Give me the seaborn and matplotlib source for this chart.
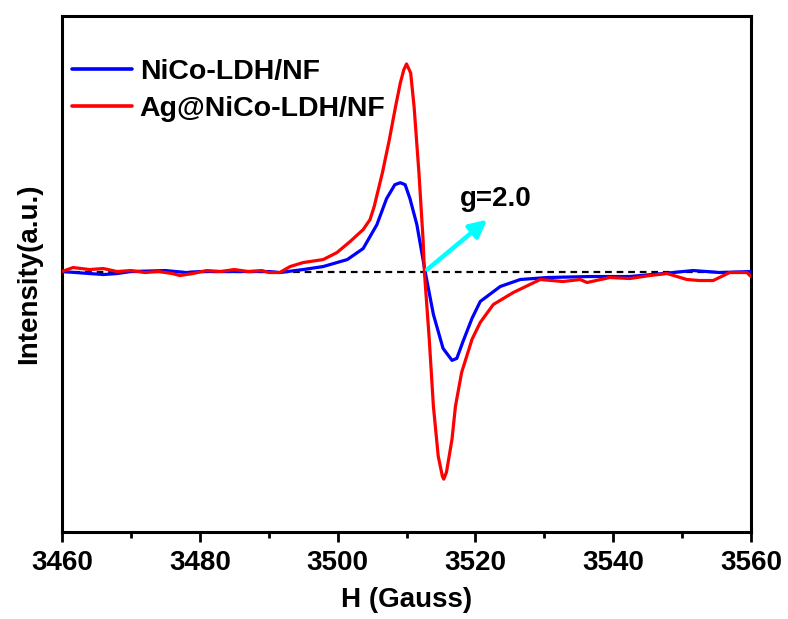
import numpy as np
import pandas as pd
import matplotlib
matplotlib.use("Agg")
import matplotlib.pyplot as plt
import seaborn as sns
from matplotlib.ticker import MultipleLocator

# EPR data (field in Gauss, intensity in a.u.)
h_nico = [3460.0, 3462.0, 3464.0, 3466.0, 3468.0, 3470.0, 3475.0, 3478.0, 3480.0,
          3485.0, 3490.0, 3491.6, 3495.0, 3497.9, 3501.4, 3503.7, 3505.7, 3507.1,
          3508.3, 3509.1, 3509.8, 3510.5, 3511.5, 3512.7, 3513.9, 3515.3, 3516.6,
          3517.3, 3518.2, 3519.5, 3520.7, 3523.6, 3526.5, 3530.4, 3536.6, 3542.4,
          3547.2, 3551.6, 3555.5, 3560.0]
i_nico = [0.00, -0.01, -0.02, -0.03, -0.02, 0.00, 0.01, -0.01, 0.00,
          0.00, 0.00, -0.01, 0.02, 0.05, 0.12, 0.23, 0.47, 0.73,
          0.87, 0.89, 0.87, 0.73, 0.47, 0.00, -0.43, -0.77, -0.89,
          -0.87, -0.70, -0.47, -0.30, -0.15, -0.08, -0.06, -0.05, -0.05,
          -0.02, 0.01, -0.01, 0.00]

h_ag = [3460.0, 3461.6, 3464.0, 3466.0, 3468.0, 3470.0, 3472.0, 3474.0, 3476.0,
        3477.1, 3479.0, 3481.0, 3483.0, 3485.0, 3487.0, 3489.0, 3490.0, 3491.6,
        3493.1, 3495.0, 3497.9, 3499.9, 3501.8, 3503.7, 3504.7, 3505.3, 3506.5,
        3507.5, 3508.4, 3509.1, 3509.6, 3510.0, 3510.6, 3511.1, 3511.8, 3512.4,
        3512.6, 3513.3, 3513.9, 3514.6, 3515.2, 3515.4, 3515.8, 3516.6, 3517.1,
        3518.0, 3519.5, 3520.7, 3522.6, 3525.5, 3529.4, 3532.7, 3535.2, 3536.2,
        3539.5, 3542.4, 3545.3, 3547.8, 3550.7, 3552.5, 3554.5, 3556.9, 3559.4,
        3560.0]
i_ag = [0.00, 0.04, 0.02, 0.03, 0.00, 0.01, -0.01, 0.00, -0.02,
        -0.04, -0.02, 0.01, 0.00, 0.02, 0.00, 0.01, -0.01, -0.01,
        0.05, 0.09, 0.12, 0.19, 0.30, 0.42, 0.52, 0.65, 0.99,
        1.32, 1.65, 1.89, 2.02, 2.08, 1.99, 1.65, 0.99, 0.32,
        -0.01, -0.68, -1.35, -1.85, -2.05, -2.08, -2.01, -1.68, -1.35,
        -1.01, -0.68, -0.51, -0.33, -0.21, -0.08, -0.10, -0.08, -0.11,
        -0.06, -0.07, -0.04, -0.02, -0.08, -0.09, -0.09, -0.01, -0.01,
        -0.05]

labels = ["NiCo-LDH/NF", "Ag@NiCo-LDH/NF"]
colors = ["#0000FF", "#FF0000"]
xticks = [3460, 3480, 3500, 3520, 3540, 3560]

df = pd.concat([
    pd.DataFrame({"H": h_nico, "I": i_nico, "sample": labels[0]}),
    pd.DataFrame({"H": h_ag, "I": i_ag, "sample": labels[1]}),
])

sns.set_style("ticks")
plt.rcParams["font.family"] = ["Liberation Sans", "DejaVu Sans"]
plt.rcParams["font.weight"] = "bold"
plt.rcParams["text.color"] = "black"
plt.rcParams["axes.labelcolor"] = "black"
plt.rcParams["axes.edgecolor"] = "black"
plt.rcParams["xtick.color"] = "black"

fig = plt.figure(figsize=(7.88, 6.19), dpi=100)
ax = fig.add_axes([0.0787, 0.1405, 0.8744, 0.8336])

ax.axhline(0, color="black", lw=1.6, ls=(0, (3, 2.2)), zorder=1)
sns.lineplot(data=df, x="H", y="I", hue="sample", palette=colors,
             hue_order=labels, sort=False, lw=2.3, ax=ax, zorder=3)

ax.set_xlim(3460, 3560)
ax.set_ylim(-2.61, 2.56)
ax.set_xticks(xticks)
ax.xaxis.set_minor_locator(MultipleLocator(10))
ax.set_yticks([])
ax.tick_params(axis="x", which="major", direction="out", length=7, width=2,
               labelsize=20, pad=6)
ax.tick_params(axis="x", which="minor", direction="out", length=4, width=2)
for lab in ax.get_xticklabels():
    lab.set_fontweight("bold")
for sp in ax.spines.values():
    sp.set_linewidth(2.2)
    sp.set_visible(True)
    sp.set_color("black")

ax.set_xlabel("H (Gauss)", fontsize=20, fontweight="bold", labelpad=8)
ax.set_ylabel("Intensity(a.u.)", fontsize=20, fontweight="bold", labelpad=14)

ax.annotate("", xy=(3521.7, 0.52), xytext=(3513.0, 0.02),
            arrowprops=dict(arrowstyle="-|>", color="cyan", lw=3.2,
                            mutation_scale=26, shrinkA=0, shrinkB=0), zorder=4)
ax.text(3517.8, 0.73, "g=2.0", fontsize=20, fontweight="bold",
        ha="left", va="center")

leg = ax.legend(loc="upper left", frameon=False, fontsize=20.5,
                handlelength=2.1, handletextpad=0.28, labelspacing=0.36,
                borderaxespad=0, borderpad=0, bbox_to_anchor=(0.0145, 0.916))
for t in leg.get_texts():
    t.set_fontweight("bold")
for ln in leg.get_lines():
    ln.set_linewidth(2.6)

fig.savefig("out.png", dpi=100)
